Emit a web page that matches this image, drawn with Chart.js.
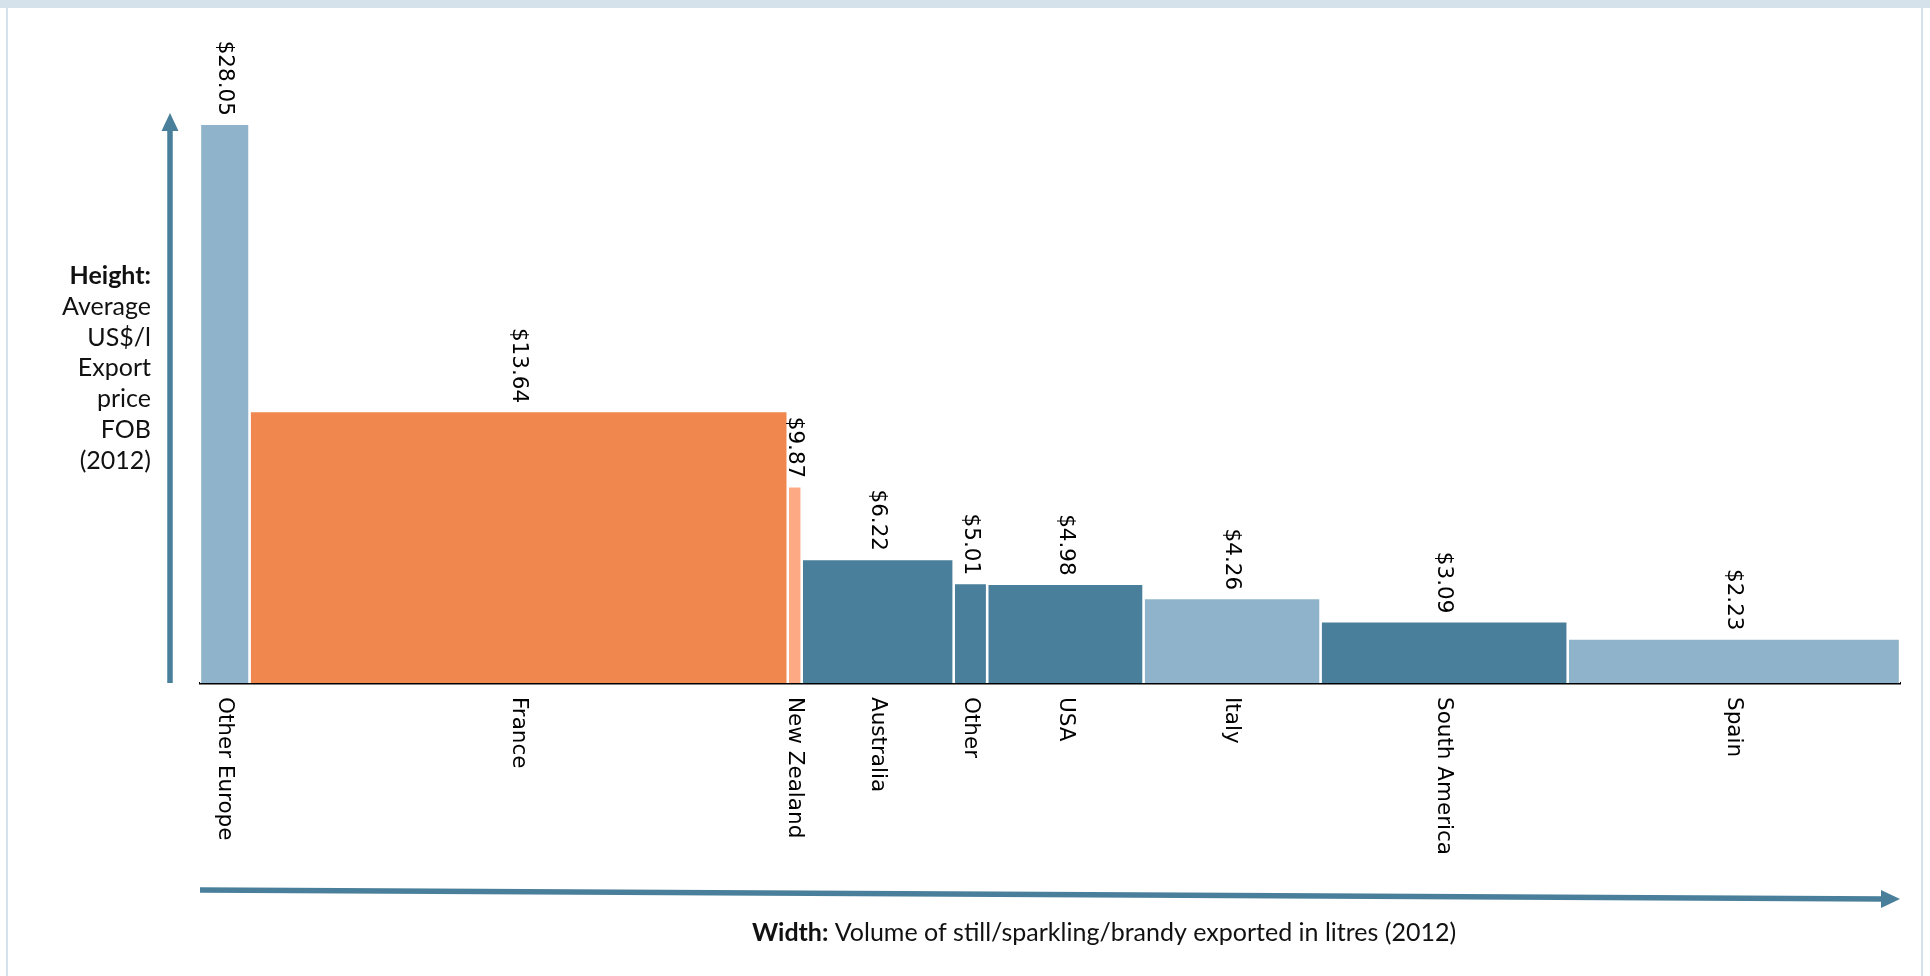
<!DOCTYPE html>
<html lang="en">
<head>
    <meta charset="UTF-8" />
    <title>Wine export price vs volume (2012)</title>
    <script src="https://cdn.jsdelivr.net/npm/chart.js"></script>
    <style>
        * {
            box-sizing: border-box;
            margin: 0;
            padding: 0;
        }

        body {
            background: #ffffff;
            width: 1930px;
            height: 976px;
            overflow: hidden;
        }

        .chart-wrap {
            position: relative;
            width: 1930px;
            height: 976px;
        }
    </style>
</head>
<body>
    <div class="chart-wrap"><canvas id="exportChart"></canvas></div>

    <script>
        // Regions, average FOB export price (US$/l) and share of exported volume (%)
        const regions = ['Other Europe', 'France', 'New Zealand', 'Australia', 'Other', 'USA', 'Italy', 'South America', 'Spain'];
        const exportPrice = [28.05, 13.64, 9.87, 6.22, 5.01, 4.98, 4.26, 3.09, 2.23];
        const volumeShare = [2.91, 31.66, 0.82, 8.94, 1.97, 9.20, 10.41, 14.54, 19.55];

        const LIGHT = '#8fb3ca';
        const DARK = '#4a7f9b';
        const ORANGE = '#ef874f';
        const PEACH = '#fda984';
        const barColors = [LIGHT, ORANGE, PEACH, DARK, DARK, DARK, LIGHT, DARK, LIGHT];

        // each region is a filled outline from its running volume start to end
        let runStart = 0;
        const barStarts = [];
        const datasets = regions.map((name, i) => {
            const s = runStart;
            const e = s + volumeShare[i];
            barStarts.push(s);
            runStart = e;
            return {
                label: name,
                data: [
                    { x: s, y: 0 },
                    { x: s, y: exportPrice[i] },
                    { x: e, y: exportPrice[i] },
                    { x: e, y: 0 }
                ],
                backgroundColor: barColors[i],
                borderColor: '#ffffff',
                borderWidth: 2.4,
                borderJoinStyle: 'miter',
                fill: 'origin',
                pointRadius: 0,
                tension: 0
            };
        });
        const totalShare = runStart;

        function vText(ctx, text, x, y, align) {
            ctx.save();
            ctx.translate(x, y);
            ctx.rotate(Math.PI / 2);
            ctx.textAlign = align;
            ctx.textBaseline = 'middle';
            ctx.fillText(text, 0, 0);
            ctx.restore();
        }

        const framePlugin = {
            id: 'frame',
            beforeDraw(chart) {
                const ctx = chart.ctx;
                ctx.save();
                ctx.fillStyle = '#d6e2eb';
                ctx.fillRect(0, 0, chart.width, 8);
                ctx.fillRect(6, 0, 2, chart.height);
                ctx.fillRect(1921, 0, 2, chart.height);
                ctx.restore();
            }
        };

        const labelPlugin = {
            id: 'barLabels',
            afterDraw(chart) {
                const { ctx, chartArea: area, scales: { x, y } } = chart;
                ctx.save();
                ctx.fillStyle = '#000000';
                ctx.font = '21.5px "DejaVu Sans"';
                regions.forEach((name, i) => {
                    const cx = x.getPixelForValue(barStarts[i] + volumeShare[i] / 2);
                    const top = y.getPixelForValue(exportPrice[i]);
                    vText(ctx, '$' + exportPrice[i].toFixed(2), cx, top - 8, 'right');
                    vText(ctx, name, cx, y.getPixelForValue(0) + 14, 'left');
                });

                // axis arrows
                ctx.fillStyle = DARK;
                ctx.strokeStyle = DARK;
                const ax = area.left - 30;
                ctx.lineWidth = 5.5;
                ctx.beginPath();
                ctx.moveTo(ax, area.bottom);
                ctx.lineTo(ax, 128);
                ctx.stroke();
                ctx.beginPath();
                ctx.moveTo(ax, 113);
                ctx.lineTo(ax - 8.5, 131);
                ctx.lineTo(ax + 8.5, 131);
                ctx.closePath();
                ctx.fill();

                const y0 = area.bottom + 207;
                const y1 = area.bottom + 216;
                const tip = area.right;
                ctx.beginPath();
                ctx.moveTo(area.left, y0);
                ctx.lineTo(tip - 15, y1 - 0.1);
                ctx.stroke();
                ctx.beginPath();
                ctx.moveTo(tip, y1);
                ctx.lineTo(tip - 19, y1 - 9);
                ctx.lineTo(tip - 19, y1 + 9);
                ctx.closePath();
                ctx.fill();

                // axis descriptions
                ctx.fillStyle = '#111111';
                ctx.textAlign = 'right';
                ctx.textBaseline = 'alphabetic';
                const heightLines = ['Average', 'US$/l', 'Export', 'price', 'FOB', '(2012)'];
                ctx.font = 'bold 25px Lato';
                ctx.fillText('Height:', 151, 284);
                ctx.font = '25px Lato';
                heightLines.forEach((t, k) => ctx.fillText(t, 151, 284 + 30.8 * (k + 1)));

                const boldPart = 'Width:';
                const restPart = ' Volume of still/sparkling/brandy exported in litres (2012)';
                ctx.font = 'bold 25px Lato';
                const wb = ctx.measureText(boldPart).width;
                ctx.font = '25px Lato';
                const wr = ctx.measureText(restPart).width;
                const startX = 1104 - (wb + wr) / 2;
                ctx.textAlign = 'left';
                ctx.font = 'bold 25px Lato';
                ctx.fillText(boldPart, startX, 941);
                ctx.font = '25px Lato';
                ctx.fillText(restPart, startX + wb, 941);
                ctx.restore();
            }
        };

        Chart.defaults.font.family = '"DejaVu Sans", sans-serif';

        new Chart(document.getElementById('exportChart'), {
            type: 'line',
            data: { datasets: datasets },
            options: {
                responsive: true,
                maintainAspectRatio: false,
                animation: false,
                layout: { padding: { left: 200, right: 30, top: 85, bottom: 293 } },
                plugins: {
                    legend: { display: false },
                    tooltip: { enabled: false }
                },
                scales: {
                    x: {
                        type: 'linear',
                        min: 0,
                        max: totalShare,
                        grid: { display: false, drawTicks: false },
                        border: { display: true, color: '#000000', width: 2.5 },
                        ticks: { display: false }
                    },
                    y: {
                        display: false,
                        min: 0,
                        max: 30
                    }
                }
            },
            plugins: [framePlugin, labelPlugin]
        });
    </script>
</body>
</html>
